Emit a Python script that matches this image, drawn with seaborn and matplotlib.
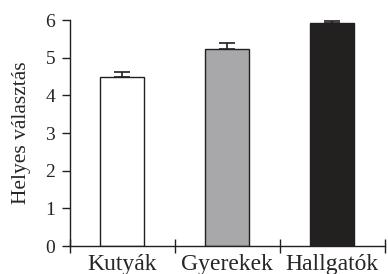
import matplotlib
matplotlib.use("Agg")
import matplotlib.pyplot as plt
import seaborn as sns
import numpy as np
import pandas as pd

categories = ["Kutyák", "Gyerekek", "Hallgatók"]
values = [4.48, 5.22, 5.93]
errors = [0.15, 0.18, 0.05]
bar_colors = ["#ffffff", "#a7a8ab", "#231f20"]
y_ticks = [0, 1, 2, 3, 4, 5, 6]
y_label = "Helyes választás"

sns.set_style("ticks")
plt.rcParams["font.family"] = ["Liberation Serif", "DejaVu Serif"]

fig = plt.figure(figsize=(3.88, 2.74), dpi=100)
ax = fig.add_axes([0.180, 0.102, 0.812, 0.825])

df = pd.DataFrame({"cat": categories, "val": values})
sns.barplot(data=df, x="cat", y="val", hue="cat", palette=bar_colors,
            legend=False, width=0.42, edgecolor="#231f20", linewidth=1.0,
            errorbar=None, ax=ax)

xpos = np.arange(len(categories))
ax.errorbar(xpos, values, yerr=[np.zeros(len(errors)), errors], fmt="none",
            ecolor="#231f20", elinewidth=1.2, capsize=6, capthick=1.2, zorder=1)

ax.set_ylim(0, 6)
ax.set_xlim(-0.5, 2.5)
ax.set_yticks(y_ticks)
ax.set_yticklabels([str(t) for t in y_ticks], fontsize=14)
ax.set_ylabel(y_label, fontsize=15.5, labelpad=10)
ax.set_xlabel("")

ax.set_xticks([-0.5, 0.5, 1.5, 2.5], minor=False)
ax.set_xticklabels([])
ax.set_xticks(xpos, minor=True)
ax.set_xticklabels(categories, minor=True, fontsize=17)
ax.tick_params(axis="x", which="major", direction="inout", length=10, width=1.0, color="#231f20")
ax.tick_params(axis="x", which="minor", length=0, pad=5.5)
ax.tick_params(axis="y", direction="out", length=5.5, width=1.0, color="#231f20", pad=5)

for s in ["top", "right"]:
    ax.spines[s].set_visible(False)
for s in ["left", "bottom"]:
    ax.spines[s].set_color("#231f20")
    ax.spines[s].set_linewidth(1.0)

fig.savefig("out.png", dpi=100)
